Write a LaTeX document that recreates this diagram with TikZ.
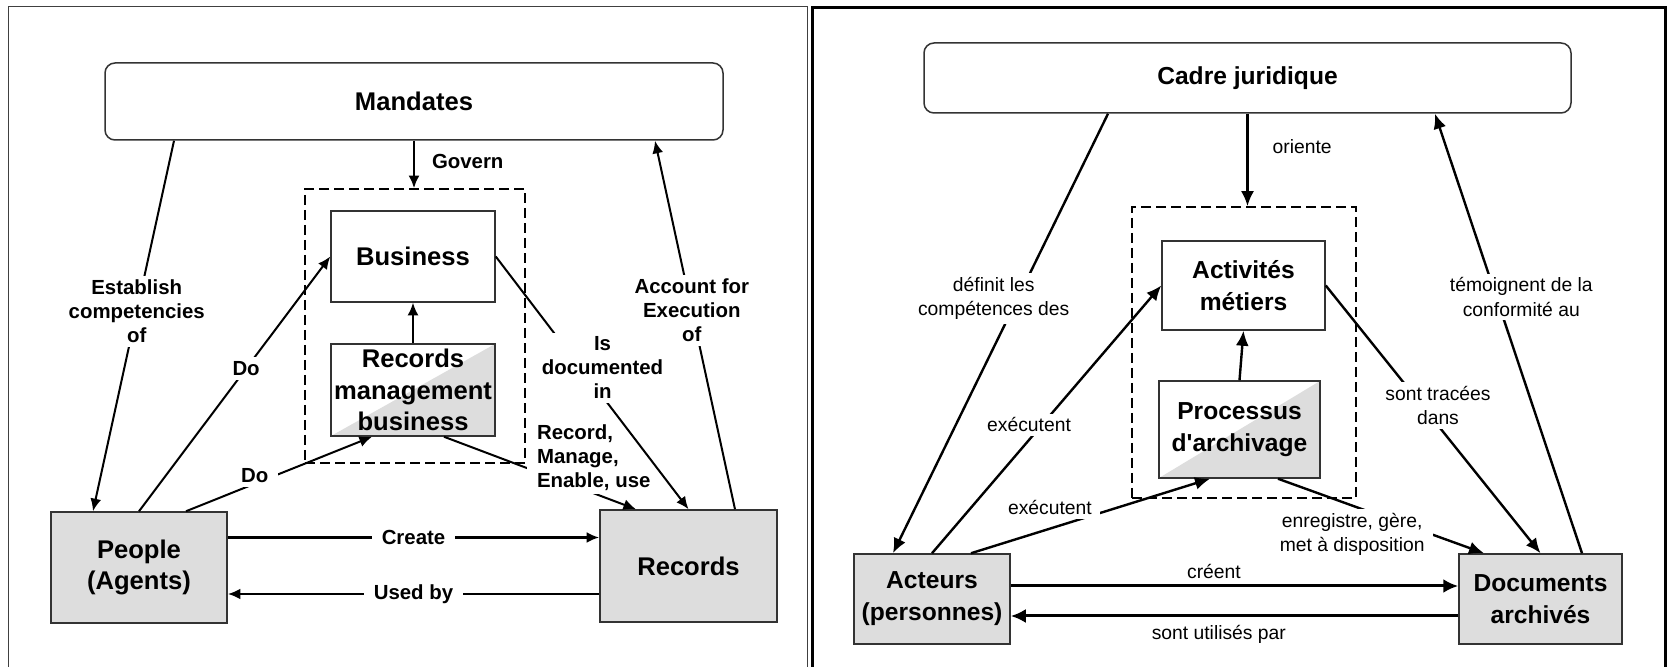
\documentclass[tikz,border=0pt]{standalone}
\usepackage{fontspec}
\setmainfont{Liberation Sans}
\usetikzlibrary{arrows.meta, positioning}
\definecolor{boxgray}{RGB}{221,221,221}

\begin{document}
\begin{tikzpicture}[x=0.5pt, y=-0.5pt,
  box/.style={draw=black!80, line width=0.75pt, inner sep=0pt, align=center},
  lfont/.style={font=\fontsize{12.8}{15.8}\selectfont\bfseries},
  rfont/.style={font=\fontsize{12.3}{16}\selectfont\bfseries},
  grey/.style={fill=boxgray},
  half/.style={fill=white, path picture={\fill[boxgray] (path picture bounding box.south west) -- (path picture bounding box.south east) -- (path picture bounding box.north east) -- cycle;}},
  dashbox/.style={draw, dash pattern=on 5pt off 2.5pt, line width=0.8pt, inner sep=0pt},
  larr/.style={-{Latex[length=6.3pt, width=5.5pt]}, line width=1pt},
  lharr/.style={-{Latex[length=6.3pt, width=5.5pt]}, line width=1.4pt},
  rarr/.style={-{Latex[length=7.5pt, width=6.5pt]}, line width=1.2pt},
  rharr/.style={-{Latex[length=7.5pt, width=7pt]}, line width=1.5pt},
  llbl/.style={fill=white, inner xsep=5pt, inner ysep=2pt, align=center, font=\fontsize{10.2}{12}\selectfont\bfseries},
  rlbl/.style={fill=white, inner xsep=4pt, inner ysep=2pt, align=center, font=\fontsize{9.65}{12.2}\selectfont}]
\useasboundingbox (0,0) rectangle (1672,667);

% frames
\draw [black!75, line width=0.5pt] (8.5,667) -- (8.5,6.5) -- (807.5,6.5) -- (807.5,667);
\draw [line width=1.5pt] (812.5,667) -- (812.5,7.5) -- (1665.5,7.5) -- (1665.5,667);

% left panel
\node (mand) [box, lfont, rounded corners=5pt, minimum width=309pt, minimum height=38.5pt] at (414,101.5) {Mandates};
\node (lframe) [dashbox, minimum width=110pt, minimum height=137pt] at (415,326) {};
\node (biz) [box, lfont, fill=white, minimum width=82pt, minimum height=45.5pt] at (413,256.5) {Business};
\node (rmb) [box, lfont, half, minimum width=82pt, minimum height=46pt] at (413,390) {Records\\management\\business};
\node (people) [box, lfont, grey, minimum width=88pt, minimum height=55.5pt] at (139,567.5) {People\\(Agents)};
\node (recs) [box, lfont, grey, minimum width=88.5pt, minimum height=56pt] at (688.5,566) {Records};

\draw [larr] (mand.south) -- (mand.south |- lframe.north) node [llbl, pos=.43, right=3.5pt] (l0) {Govern};
\draw [larr] (rmb.north) -- (biz.south);
\coordinate (c1) at ([yshift=15pt]people.east);
\coordinate (c2) at ([yshift=-14pt]recs.west);
\draw [lharr] (c1) -- (c1 -| recs.west) node [llbl, midway] (l1) {Create};
\draw [lharr] (c2) -- (c2 -| people.east) node [llbl, midway] (l2) {Used by};
\draw [larr] ([xshift=-120pt]mand.south) -- ([xshift=-23pt]people.north) node [llbl, pos=.46] (l3) {Establish\\competencies\\of};
\draw [larr] ([xshift=23.25pt]recs.north) -- ([xshift=120.5pt]mand.south) node [llbl, pos=.54] (l4) {Account for\\Execution\\of};
\draw [larr] (people.north) -- (biz.west) node [llbl, pos=.56] (l5) {Do};
\draw [larr] ([xshift=23.5pt]people.north) -- ([xshift=-20.5pt]rmb.south) node [llbl, pos=.37, yshift=4pt] (l6) {Do};
\draw [larr] ([xshift=15.5pt]rmb.south) -- ([xshift=-26.25pt]recs.north) node [llbl, align=left, pos=.78, yshift=18pt] (l8) {Record,\\Manage,\\Enable, use};
\draw [larr] (biz.east) -- (recs.north) node [llbl, pos=.44, xshift=11pt] (l7) {Is\\documented\\in};

% right panel
\node (cadre) [box, rfont, rounded corners=5pt, minimum width=323.5pt, minimum height=35pt] at (1247.5,78) {Cadre juridique};
\node (rframe) [dashbox, minimum width=112pt, minimum height=145.5pt] at (1244,352.5) {};
\node (act) [box, rfont, fill=white, minimum width=81.5pt, minimum height=44.5pt] at (1243.5,285.5) {Activités\\métiers};
\node (proc) [box, rfont, half, minimum width=80.5pt, minimum height=48.5pt] at (1239.5,429.5) {Processus\\d\textquotesingle archivage};
\node (acteurs) [box, rfont, grey, minimum width=78pt, minimum height=45pt] at (932,599) {Acteurs\\(personnes)};
\node (docs) [box, rfont, grey, minimum width=81.5pt, minimum height=45pt] at (1540.5,599) {Documents\\archivés};

\draw [rarr] (cadre.south) -- (cadre.south |- rframe.north) node [rlbl, pos=.36, right=8pt] (r0) {oriente};
\draw [rarr] (proc.north) -- (act.south);
\coordinate (c3) at ([yshift=6.5pt]acteurs.east);
\coordinate (c4) at ([yshift=-8.5pt]docs.west);
\draw [rharr] (c3) -- (c3 -| docs.west) node [rlbl, pos=.454, above=1pt] (r1) {créent};
\draw [rharr] (c4) -- (c4 -| acteurs.east) node [rlbl, pos=.535, below=2pt] (r2) {sont utilisés par};
\draw [rarr] ([xshift=-69.75pt]cadre.south) -- ([xshift=-19.5pt]acteurs.north) node [rlbl, pos=.42, xshift=-12pt] (r3) {définit les\\compétences des};
\draw [rarr] ([xshift=20.75pt]docs.north) -- ([xshift=93.75pt]cadre.south) node [rlbl, pos=.583, xshift=12.5pt] (r4) {témoignent de la\\conformité au};
\draw [rarr] (acteurs.north) -- (act.west) node [rlbl, pos=.48, xshift=-6.5pt] (r5) {exécutent};
\draw [rarr] ([xshift=19.5pt]acteurs.north) -- ([xshift=-14.75pt]proc.south) node [rlbl, pos=.33, yshift=10.5pt] (r6) {exécutent};
\draw [rarr] (act.east) -- (docs.north) node [rlbl, pos=.448, xshift=8pt] (r7) {sont tracées\\dans};
\draw [rarr] ([xshift=19.25pt]proc.south) -- ([xshift=-28.25pt]docs.north) node [rlbl, pos=.36, yshift=-14.5pt] (r8) {enregistre, gère,\\met à disposition};
\end{tikzpicture}
\end{document}
